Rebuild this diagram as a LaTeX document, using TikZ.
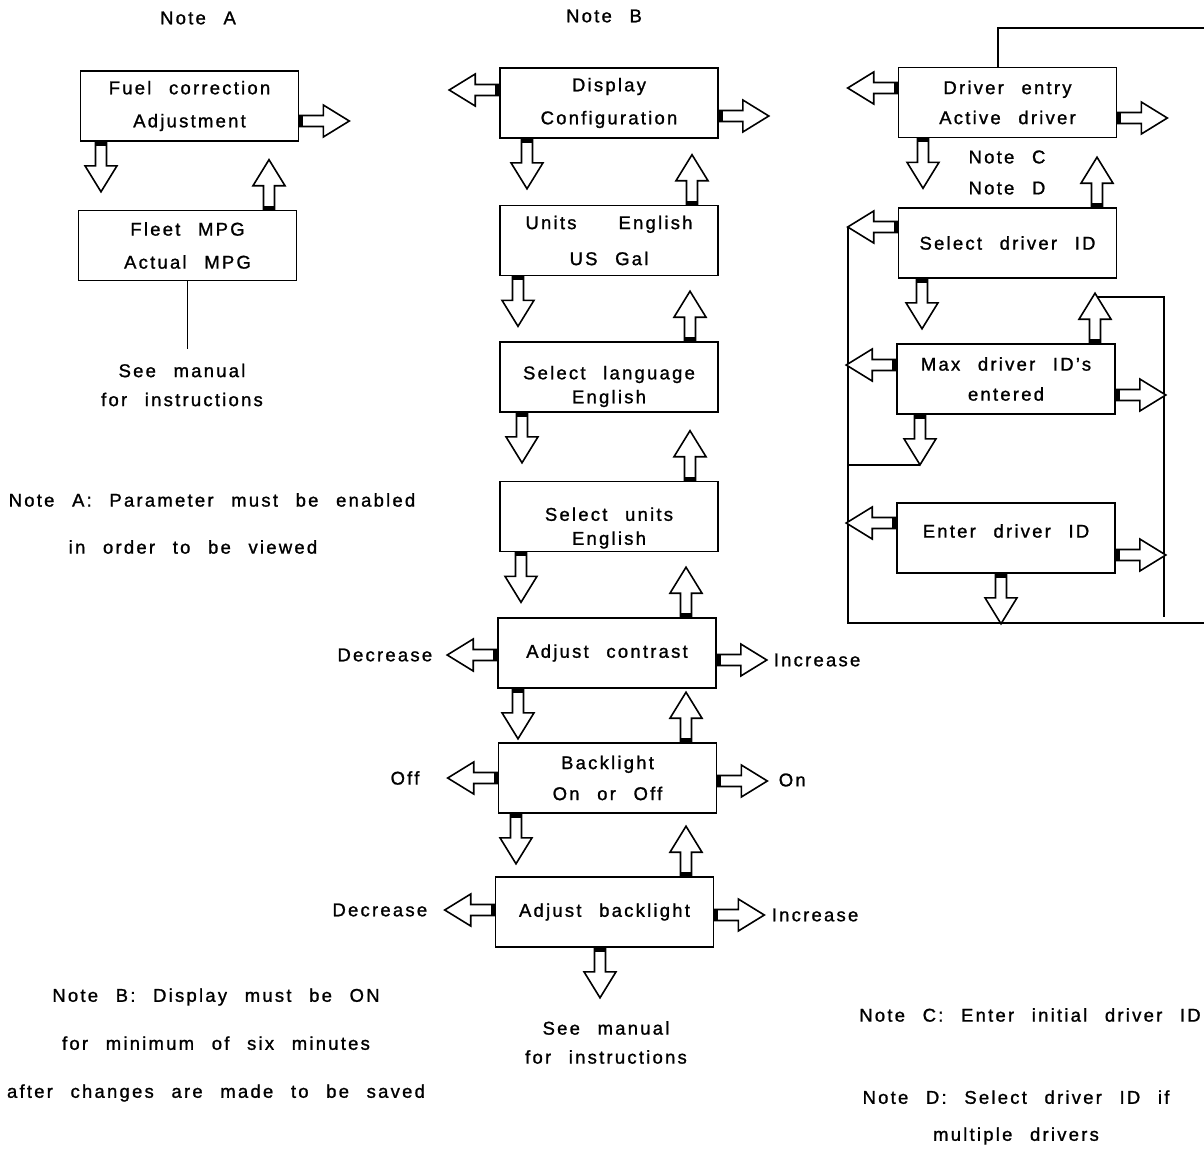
\documentclass[tikz,border=0pt]{standalone}
\usepackage{fontspec}
\setmainfont[LetterSpace=12,WordSpace=2.4,FakeBold=1.2]{Liberation Sans}
\begin{document}
\begin{tikzpicture}[x=1pt, y=-1pt, line width=1.6pt,
    box/.style={draw, align=center, minimum width=218pt, minimum height=70pt, inner sep=0pt, font=\fontsize{18.5}{33}\selectfont},
    tight/.style={font=\fontsize{18.5}{24}\selectfont},
    txt/.style={align=center, inner sep=0pt, font=\fontsize{18.5}{29}\selectfont},
    blk/.pic={\draw[fill=white] (0,-5.5) -- (24,-5.5) -- (24,-16) -- (50,0) -- (24,16) -- (24,5.5) -- (0,5.5) -- cycle; \fill (0,-5.5) rectangle (4,5.5);},
    toS/.style={rotate=-90}, toN/.style={rotate=90}, toW/.style={rotate=180}]
  \useasboundingbox (0,0) rectangle (1204,1148);
  \node[txt] (na) at (198,18) {Note A};
  \node[box] (fuel) at (189.5,106) {Fuel correction\\Adjustment};
  \node[box] (fleet) at (187.5,245.5) {Fleet MPG\\Actual MPG};
  \node[txt] (seeA) at (182,385) {See manual\\for instructions};
  \node[txt] (noteA1) at (212,500) {Note A: Parameter must be enabled};
  \node[txt] (noteA2) at (193,547) {in order to be viewed};
  \node[txt, font=\fontsize{18.5}{48}\selectfont] (noteB) at (216,1045) {Note B: Display must be ON\\for minimum of six minutes\\after changes are made to be saved};
  \node[txt] (nb) at (604,16) {Note B};
  \node[box] (disp) at (609,103) {Display\\Configuration};
  \node[box, font=\fontsize{18.5}{36}\selectfont] (units) at (609,240.5) {Units\hspace{42pt}English\\US Gal};
  \node[box] (lang) at (609,377) {};
  \node[txt, tight] (langT) at ([yshift=-9.5pt]lang.center) {Select language\\English};
  \node[box] (selu) at (609,516.5) {};
  \node[txt, tight] (seluT) at ([yshift=-11.5pt]selu.center) {Select units\\English};
  \node[box] (contrast) at (607,653) {Adjust contrast};
  \node[box, font=\fontsize{18.5}{31}\selectfont] (backl) at (607.5,778) {Backlight\\On or Off};
  \node[box] (adjb) at (604.5,912) {Adjust backlight};
  \node[txt] (seeB) at (606,1042.5) {See manual\\for instructions};
  \node[txt, anchor=east] (decC) at (433,655) {Decrease};
  \node[txt, anchor=west] (incC) at (773,660) {Increase};
  \node[txt] (off) at (405,778) {Off};
  \node[txt, anchor=west] (on) at (778,780) {On};
  \node[txt, anchor=east] (decB) at (428,910) {Decrease};
  \node[txt, anchor=west] (incB) at (771,915) {Increase};
  \node[box, font=\fontsize{18.5}{30}\selectfont] (drv) at (1007.5,102.5) {Driver entry\\Active driver};
  \node[txt, font=\fontsize{18.5}{31}\selectfont] (notes) at (1007,172.5) {Note C\\Note D};
  \node[box] (seld) at (1007.5,243) {Select driver ID};
  \node[box, font=\fontsize{18.5}{30}\selectfont] (maxd) at (1006,379) {Max driver ID's\\entered};
  \node[box] (entd) at (1006,538) {};
  \node[txt] (entdT) at ([yshift=7pt]entd.center) {Enter driver ID};
  \node[txt] (noteC) at (1030,1015) {Note C: Enter initial driver ID};
  \node[txt, font=\fontsize{18.5}{37}\selectfont] (noteD) at (1016,1117.5) {Note D: Select driver ID if\\multiple drivers};
  \coordinate (tr) at (1204,28);
  \coordinate (lt) at (848,227);
  \coordinate (lb) at (848,623);
  \coordinate (br) at (1204,623);
  \coordinate (rb) at (1164,617);
  \coordinate (mtip) at ([xshift=-86pt,yshift=-50pt]maxd.south);
  \draw[shorten >=14pt] (fleet.south) -- (fleet.south |- seeA.north);
  \draw ([xshift=-9.5pt]drv.north) |- (tr);
  \draw (lt) -- (lb) -- (br);
  \draw ([xshift=89pt,yshift=46pt]maxd.north) -| (rb);
  \draw (mtip) -- (mtip -| lt);
  \pic at ([yshift=-15pt]fuel.east) {blk};
  \pic[toS] at ([xshift=-88.5pt]fuel.south) {blk};
  \pic[toN] at ([xshift=81.5pt]fleet.north) {blk};
  \pic[toW] at ([yshift=13pt]disp.west) {blk};
  \pic at ([yshift=-13pt]disp.east) {blk};
  \pic[toS] at ([xshift=-82pt]disp.south) {blk};
  \pic[toN] at ([xshift=83pt]units.north) {blk};
  \pic[toS] at ([xshift=-91pt]units.south) {blk};
  \pic[toN] at ([xshift=81pt]lang.north) {blk};
  \pic[toS] at ([xshift=-87pt]lang.south) {blk};
  \pic[toN] at ([xshift=81pt]selu.north) {blk};
  \pic[toS] at ([xshift=-88pt]selu.south) {blk};
  \pic[toN] at ([xshift=79pt]contrast.north) {blk};
  \pic[toW] at ([yshift=-2pt]contrast.west) {blk};
  \pic at ([yshift=-7pt]contrast.east) {blk};
  \pic[toS] at ([xshift=-89pt]contrast.south) {blk};
  \pic[toN] at ([xshift=78.5pt]backl.north) {blk};
  \pic[toW] at (backl.west) {blk};
  \pic at ([yshift=-3pt]backl.east) {blk};
  \pic[toS] at ([xshift=-91.5pt]backl.south) {blk};
  \pic[toN] at ([xshift=81.5pt]adjb.north) {blk};
  \pic[toW] at ([yshift=2pt]adjb.west) {blk};
  \pic at ([yshift=-3pt]adjb.east) {blk};
  \pic[toS] at ([xshift=-4.5pt]adjb.south) {blk};
  \pic[toW] at ([yshift=14.5pt]drv.west) {blk};
  \pic at ([yshift=-15.5pt]drv.east) {blk};
  \pic[toS] at ([xshift=-84.5pt]drv.south) {blk};
  \pic[toN] at ([xshift=89.5pt]seld.north) {blk};
  \pic[toW] at ([yshift=16pt]seld.west) {blk};
  \pic[toS] at ([xshift=-85.5pt]seld.south) {blk};
  \pic[toN] at ([xshift=89pt]maxd.north) {blk};
  \pic[toW] at ([yshift=14pt]maxd.west) {blk};
  \pic at ([yshift=-16pt]maxd.east) {blk};
  \pic[toS] at ([xshift=-86pt]maxd.south) {blk};
  \pic[toW] at ([yshift=15pt]entd.west) {blk};
  \pic at ([yshift=-17pt]entd.east) {blk};
  \pic[toS] at ([xshift=-5pt]entd.south) {blk};
\end{tikzpicture}
\end{document}
